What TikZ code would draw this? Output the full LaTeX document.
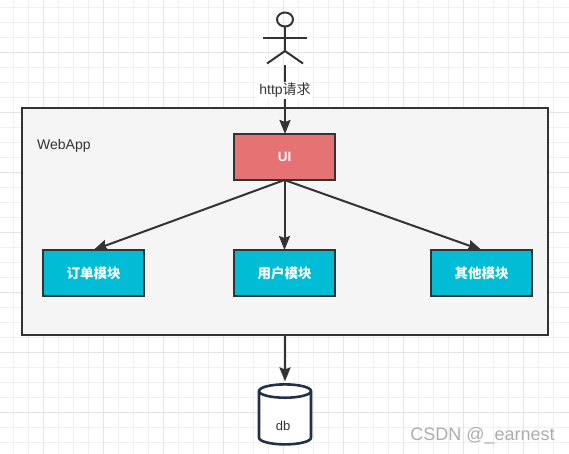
\documentclass[tikz,border=0pt]{standalone}
\usepackage{fontspec}
\setmainfont{Liberation Sans}
\newfontfamily\cjk{Noto Sans CJK SC}
\usetikzlibrary{positioning,arrows.meta,shapes.geometric}
\definecolor{inkgray}{HTML}{333333}
\definecolor{gridminor}{HTML}{F0F0F0}
\definecolor{gridmajor}{HTML}{E4E4E4}
\definecolor{framefill}{HTML}{F5F5F5}
\definecolor{uired}{HTML}{E57373}
\definecolor{modcyan}{HTML}{00BCD4}
\definecolor{dbnavy}{HTML}{23304A}

\begin{document}
\begin{tikzpicture}[
  x=1pt, y=-1pt,
  %--- block styles ---
  box/.style={draw=inkgray, line width=2pt, outer sep=0pt, align=center},
  frame/.style={box, fill=framefill, minimum width=526pt, minimum height=227pt},
  uibox/.style={box, fill=uired, minimum width=101pt, minimum height=46pt,
    text=white, font=\fontsize{13.5}{15}\selectfont\bfseries},
  modbox/.style={box, fill=modcyan, minimum width=101pt, minimum height=46pt,
    text=white, font=\fontsize{13.5}{15}\cjk\bfseries},
  dbbox/.style={cylinder, shape border rotate=90, aspect=2, draw=dbnavy, fill=white,
    line width=2.6pt, minimum width=52pt, minimum height=60pt, outer sep=0pt},
  %--- arrows ---
  arr/.style={-{Stealth[length=14pt,width=11pt,inset=2pt]}, line width=2pt, draw=inkgray},
  %--- text ---
  txt/.style={font=\fontsize{14}{16}\selectfont, text=inkgray, inner sep=1pt},
  %--- background grid ---
  gridlo/.style={draw=gridminor, line width=1pt},
  gridhi/.style={draw=gridmajor, line width=1pt}
]

%% ── PAGE + GRID ─────────────────────────────────────────────────────────────
\fill[white] (0,0) rectangle (569,454);
\useasboundingbox (0,0) rectangle (569,454);
\foreach \gx in {13.5,28.5,...,568} \draw[gridlo] (\gx,0) -- (\gx,454);
\foreach \gy in {7.5,22.5,...,453} \draw[gridlo] (0,\gy) -- (569,\gy);
\foreach \gx in {43.5,103.5,...,568} \draw[gridhi] (\gx,0) -- (\gx,454);
\foreach \gy in {52.5,112.5,...,453} \draw[gridhi] (0,\gy) -- (569,\gy);

%% ── FRAME + MODULES ─────────────────────────────────────────────────────────
\node[frame] (webapp) at (285,221.5) {};
\node[txt, anchor=north west, below right=30.5pt and 14pt of webapp.north west] (applabel) {WebApp};

\node[uibox] (ui) at (284.5,157) {UI};
\node[modbox, below=70pt of ui] (usermod) {用户模块};
\node[modbox, left=90pt of usermod] (ordermod) {订单模块};
\node[modbox, right=96pt of usermod] (othermod) {其他模块};

%% ── USER ────────────────────────────────────────────────────────────────────
\node[ellipse, draw=inkgray, line width=2pt, minimum width=16pt, minimum height=14pt, inner sep=0pt, outer sep=0pt] (head) at (285,19.5) {};
\coordinate (hip) at (285,51);
\coordinate (actor) at (285,65);
\draw[inkgray, line width=2pt] (head.south) -- (hip);
\draw[inkgray, line width=2pt] (263,38) -- (307,38);
\draw[inkgray, line width=2pt] (267,63.5) -- (hip) -- (303,63.5);

%% ── DATABASE ────────────────────────────────────────────────────────────────
\node[dbbox] (db) at (285,420) {};
\node[txt, font=\fontsize{13}{15}\selectfont] (dblabel) at (283,425.5) {db};

%% ── ARROWS ──────────────────────────────────────────────────────────────────
\draw[arr] (actor) -- node[txt, pos=0.37, fill=white] (http) {http{\cjk 请求}} (ui.north -| actor);
\draw[arr] (ui.south) -- (ordermod.north);
\draw[arr] (ui.south) -- (usermod.north);
\draw[arr] (ui.south) -- (othermod.north);
\draw[arr, shorten >=3pt] (webapp.south) -- (db.north);

%% ── WATERMARK ───────────────────────────────────────────────────────────────
\node[font=\fontsize{18}{21}\selectfont, text=black!32, inner sep=0pt] (mark) at (482.5,436) {CSDN @\_earnest};
\end{tikzpicture}
\end{document}
